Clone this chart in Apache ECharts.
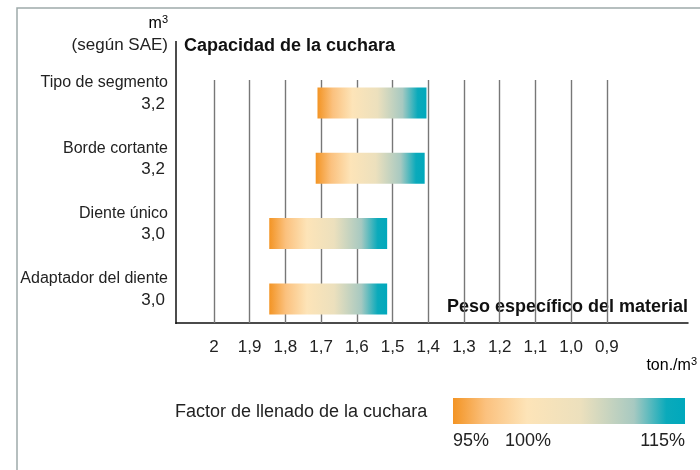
<!DOCTYPE html>
<html lang="es">
<head>
<meta charset="UTF-8">
<title>Capacidad de la cuchara</title>
<script src="https://cdn.jsdelivr.net/npm/echarts@6/dist/echarts.min.js"></script>
</head>
<body style="margin:0">
<div id="chart" style="width:700px;height:470px"></div>
<script type="text/javascript">
    // datos
    var tipos = ['Tipo de segmento', 'Borde cortante', 'Diente único', 'Adaptador del diente'];
    var capacidad = ['3,2', '3,2', '3,0', '3,0'];
    var pesoDesde = [1.71, 1.715, 1.845, 1.845];   // extremo izquierdo (95%)
    var pesoHasta = [1.405, 1.41, 1.515, 1.515];   // extremo derecho (115%)
    var ticks = [2, 1.9, 1.8, 1.7, 1.6, 1.5, 1.4, 1.3, 1.2, 1.1, 1.0, 0.9];
    var factorLabels = ['95%', '100%', '115%'];

    var font = '"Liberation Sans", Arial, sans-serif';
    var gradStops = [
        {offset: 0, color: '#f39424'},
        {offset: 0.14, color: '#fbc17e'},
        {offset: 0.32, color: '#fde4b8'},
        {offset: 0.55, color: '#ece0bd'},
        {offset: 0.78, color: '#a7c9c1'},
        {offset: 0.92, color: '#0aaabb'},
        {offset: 1, color: '#00a8bc'}
    ];

    var barData = [];
    for (var i = 0; i < tipos.length; i++) {
        barData.push([pesoDesde[i], pesoHasta[i], i]);
    }

    var supRich = {
        t: {fontSize: 16, color: '#222', fontFamily: font},
        s: {fontSize: 11, color: '#222', fontFamily: font, verticalAlign: 'top', padding: [0, 0, 9, 0]}
    };

    var chart = echarts.init(document.getElementById('chart'));
    var option = {
        backgroundColor: '#fff',
        animation: false,
        textStyle: {fontFamily: font},
        grid: {left: 176, top: 80, width: 512, height: 243},
        xAxis: {
            type: 'value',
            inverse: true,
            min: 0.673,
            max: 2.106,
            axisLine: {show: true, onZero: false, lineStyle: {color: '#111', width: 1.5}},
            axisTick: {show: false},
            splitLine: {show: false},
            axisLabel: {
                customValues: ticks,
                margin: 16,
                color: '#222',
                fontSize: 17,
                fontFamily: font,
                formatter: function (v) {
                    return v === 2 ? '2' : v.toFixed(1).replace('.', ',');
                }
            }
        },
        yAxis: {
            type: 'value',
            inverse: true,
            min: -0.352,
            max: 3.369,
            axisLine: {show: false},
            axisTick: {show: false},
            splitLine: {show: false},
            axisLabel: {
                customValues: [0, 1, 2, 3],
                margin: 8,
                padding: [0, 0, 18, 0],
                formatter: function (v) {
                    return '{n|' + tipos[v] + '}\n{v|' + capacidad[v] + '}';
                },
                rich: {
                    n: {fontSize: 16, color: '#222', lineHeight: 20, align: 'right', fontFamily: font},
                    v: {fontSize: 17, color: '#222', lineHeight: 22, align: 'right', fontFamily: font, padding: [0, 3, 0, 0]}
                }
            }
        },
        series: [
            {
                type: 'custom',
                silent: true,
                data: barData,
                encode: {x: [0, 1], y: 2},
                renderItem: function (params, api) {
                    var p0 = api.coord([api.value(0), api.value(2)]);
                    var p1 = api.coord([api.value(1), api.value(2)]);
                    var h = 31;
                    return {
                        type: 'rect',
                        shape: {x: p0[0], y: p0[1] - h / 2, width: p1[0] - p0[0], height: h},
                        style: {fill: new echarts.graphic.LinearGradient(0, 0, 1, 0, gradStops)}
                    };
                },
                z: 5,
                markLine: {
                    silent: true,
                    symbol: 'none',
                    label: {show: false},
                    lineStyle: {color: '#777', width: 1.4, type: 'solid'},
                    data: ticks.map(function (t) { return {xAxis: t}; }),
                    z: 1
                }
            }
        ],
        graphic: [
            {type: 'rect', shape: {x: 17, y: 8, width: 700, height: 480}, style: {fill: 'none', stroke: '#9eaaab', lineWidth: 1.5}},
            {type: 'line', shape: {x1: 176, y1: 41, x2: 176, y2: 324}, style: {stroke: '#111', lineWidth: 1.5}},
            {type: 'text', right: 532, top: 14, style: {text: '{t|m}{s|3}', rich: supRich}},
            {type: 'text', right: 532, top: 37, style: {text: '(según SAE)', font: '17px ' + font, fill: '#222'}},
            {type: 'text', left: 184, top: 37, style: {text: 'Capacidad de la cuchara', font: 'bold 18px ' + font, fill: '#111'}},
            {type: 'text', right: 12, top: 298, style: {text: 'Peso específico del material', font: 'bold 18px ' + font, fill: '#111'}},
            {type: 'text', right: 3, top: 356, style: {text: '{t|ton./m}{s|3}', rich: supRich}},
            {type: 'text', left: 175, top: 403, style: {text: 'Factor de llenado de la cuchara', font: '18px ' + font, fill: '#222'}},
            {type: 'rect', shape: {x: 453, y: 398, width: 232, height: 26},
                style: {fill: new echarts.graphic.LinearGradient(0, 0, 1, 0, gradStops)}},
            {type: 'text', left: 453, top: 432, style: {text: factorLabels[0], font: '18px ' + font, fill: '#222'}},
            {type: 'text', left: 505, top: 432, style: {text: factorLabels[1], font: '18px ' + font, fill: '#222'}},
            {type: 'text', right: 15, top: 432, style: {text: factorLabels[2], font: '18px ' + font, fill: '#222'}}
        ]
    };
    chart.setOption(option);
</script>
</body>
</html>
